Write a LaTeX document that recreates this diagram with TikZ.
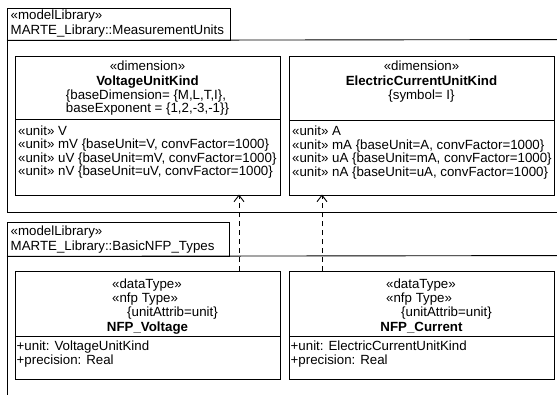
\documentclass[tikz,border=0pt]{standalone}
\usepackage{fontspec}
\setmainfont{Liberation Sans}
\usetikzlibrary{arrows.meta}
\begin{document}
\begin{tikzpicture}[x=1pt,y=-1pt,
  txt/.style={inner sep=0pt, font=\fontsize{13.3}{14}\selectfont},
  lt/.style={txt, anchor=base west},
  ct/.style={txt, anchor=base},
  bt/.style={inner sep=0pt, anchor=base, font=\fontsize{13.3}{14}\selectfont\bfseries},
  cls/.style={draw, line width=1pt, rectangle, inner sep=0pt, anchor=north west},
  tab/.style={draw, line width=0.9pt, rectangle, inner sep=0pt, anchor=north west},
  pkg/.style={draw, line width=0.9pt},
  sep/.style={draw, line width=1pt},
  dep/.style={line width=0.9pt, dash pattern=on 5pt off 4pt, -{Straight Barb[length=6.5pt,width=10pt]}}
]
\path[use as bounding box, clip] (0,0) rectangle (557,394);
\fill[white] (0,0) rectangle (557,394);

% ---------- package 1 ----------
\node[tab, minimum width=223pt, minimum height=31.5pt] (p1tab) at (7,8) {};
\draw[pkg] (p1tab.south west) -- (7,212.5) -- (600,212.5);
\draw[pkg] (p1tab.south west) -- (600,39.5);
\node[lt] (p1s) at (10.5,19.5) {«modelLibrary»};
\node[lt] (p1n) at (10.5,34.5) {MARTE\_Library::MeasurementUnits};

% VoltageUnitKind
\node[cls, minimum width=265pt, minimum height=139pt] (vk) at (15,56) {};
\draw[sep] (vk.west |- 0,119) -- (vk.east |- 0,119);
\node[ct] (vk1) at (147.5,70) {«dimension»};
\node[bt] (vk2) at (147.5,85.5) {VoltageUnitKind};
\node[ct] (vk3) at (146,99) {\{baseDimension= \{M,L,T,I\},};
\node[ct] (vk4) at (147.5,112.5) {baseExponent = \{1,2,-3,-1\}\}};
\node[lt] (vu1) at (18,135) {«unit» V};
\node[lt] (vu2) at (18,148.5) {«unit» mV \{baseUnit=V, convFactor=1000\}};
\node[lt] (vu3) at (18,162) {«unit» uV \{baseUnit=mV, convFactor=1000\}};
\node[lt] (vu4) at (18,175.5) {«unit» nV \{baseUnit=uV, convFactor=1000\}};

% ElectricCurrentUnitKind
\node[cls, minimum width=265pt, minimum height=139pt] (ck) at (289,56) {};
\draw[sep] (ck.west |- 0,120.5) -- (ck.east |- 0,120.5);
\node[ct] (ck1) at (421.5,70) {«dimension»};
\node[bt] (ck2) at (421.5,85.5) {ElectricCurrentUnitKind};
\node[ct] (ck3) at (421.5,99) {\{symbol= I\}};
\node[lt] (cu1) at (292,135.5) {«unit» A};
\node[lt] (cu2) at (292,149) {«unit» mA \{baseUnit=A, convFactor=1000\}};
\node[lt] (cu3) at (292,162.5) {«unit» uA \{baseUnit=mA, convFactor=1000\}};
\node[lt] (cu4) at (292,176) {«unit» nA \{baseUnit=uA, convFactor=1000\}};

% ---------- package 2 ----------
\node[tab, minimum width=222pt, minimum height=33.5pt] (p2tab) at (7,222) {};
\draw[pkg] (p2tab.south west) -- (7,400);
\draw[pkg] (p2tab.south west) -- (600,255.5);
\node[lt] (p2s) at (10.5,235) {«modelLibrary»};
\node[lt] (p2n) at (10.5,250) {MARTE\_Library::BasicNFP\_Types};

% NFP_Voltage
\node[cls, minimum width=265pt, minimum height=108pt] (nv) at (15,271) {};
\draw[sep] (nv.west |- 0,336.5) -- (nv.east |- 0,336.5);
\node[lt] (nv1) at (112,288.5) {«dataType»};
\node[lt] (nv2) at (112,302.5) {«nfp Type»};
\node[lt] (nv3) at (127,316.5) {\{unitAttrib=unit\}};
\node[bt] (nv4) at (147.5,331) {NFP\_Voltage};
\node[lt] (nva1) at (16.5,350) {+unit: VoltageUnitKind};
\node[lt] (nva2) at (16.5,364.5) {+precision: Real};

% NFP_Current
\node[cls, minimum width=265pt, minimum height=108pt] (nc) at (289,271) {};
\draw[sep] (nc.west |- 0,336.5) -- (nc.east |- 0,336.5);
\node[lt] (nc1) at (386,288.5) {«dataType»};
\node[lt] (nc2) at (386,302.5) {«nfp Type»};
\node[lt] (nc3) at (401,316.5) {\{unitAttrib=unit\}};
\node[bt] (nc4) at (421.5,331) {NFP\_Current};
\node[lt] (nca1) at (290.5,350) {+unit: ElectricCurrentUnitKind};
\node[lt] (nca2) at (290.5,364.5) {+precision: Real};

% ---------- dependencies ----------
\coordinate (a1) at (239,0);
\coordinate (a2) at (322,0);
\draw[dep, shorten >=-1.5pt] (nv.north -| a1) -- (vk.south -| a1);
\draw[dep, shorten >=-1.5pt] (nc.north -| a2) -- (ck.south -| a2);
\end{tikzpicture}
\end{document}
